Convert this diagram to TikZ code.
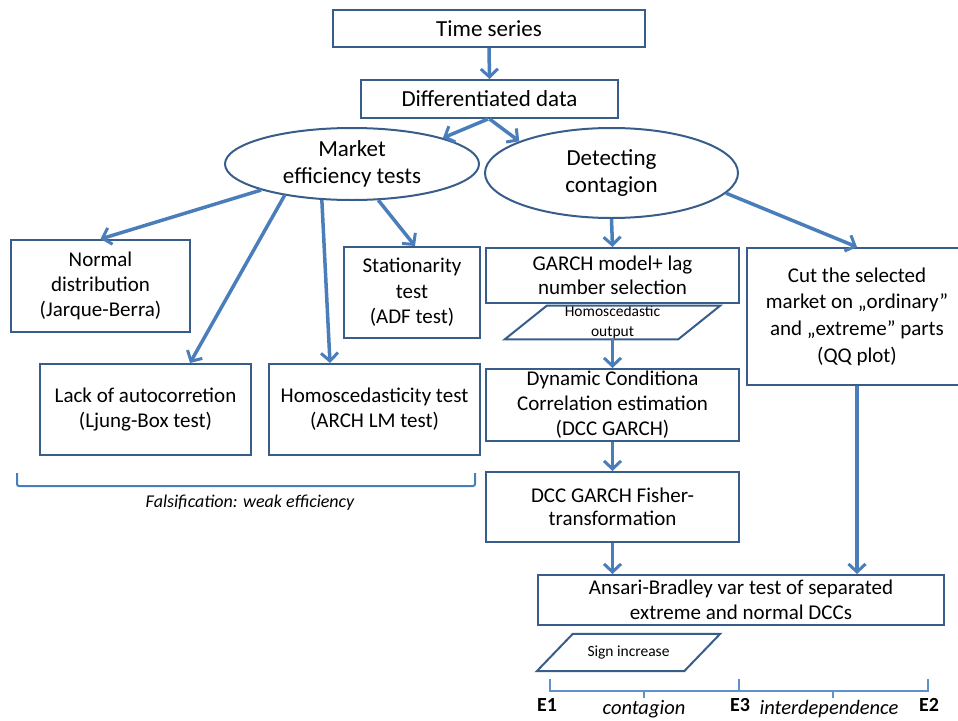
\documentclass[tikz,border=0pt]{standalone}
\usepackage{fontspec}
\setmainfont{Carlito}
\usepackage{xcolor}
\usepackage{tikz}
\usetikzlibrary{arrows.meta}
\usetikzlibrary{shapes.geometric}
\definecolor{boxline}{RGB}{56,93,138}
\definecolor{flowblue}{RGB}{74,126,187}
\definecolor{tickblue}{RGB}{95,145,205}

\begin{document}
\begin{tikzpicture}[x=1pt,y=-1pt,
    box/.style={draw=boxline,line width=2pt,align=center,inner sep=0pt,
      font=\fontsize{21}{25}\selectfont},
    oval/.style={draw=boxline,line width=2pt,ellipse,align=center,inner sep=0pt,
      font=\fontsize{23}{27}\selectfont},
    slantline/.style={draw=boxline,line width=2pt,line join=miter},
    flow/.style={draw=flowblue,line width=3.5pt,
      -{Straight Barb[length=8pt,width=17pt,line width=3pt]}}]
    \clip (0,0) rectangle (958,720);
    \useasboundingbox (0,0) rectangle (958,720);

    % top of the chart
    \node[box,minimum width=312,minimum height=37,font=\fontsize{23}{27}\selectfont] (ts) at (489,28.5) {Time series};
    \node[box,minimum width=257,minimum height=38,font=\fontsize{23}{27}\selectfont] (dd) at (489.5,99) {Differentiated data};
    \node[oval,minimum width=254,minimum height=72] (me) at (352,164) {Market\\efficiency tests};
    \node[oval,minimum width=253,minimum height=90] (dc) at (611.5,173) {Detecting\\contagion};

    % efficiency branch
    \node[box,minimum width=179,minimum height=92] (nd) at (100.5,286) {Normal\\distribution\\(Jarque-Berra)};
    \node[box,minimum width=136,minimum height=91,font=\fontsize{21}{25.5}\selectfont] (st) at (412,292.5) {Stationarity\\test\\(ADF test)};
    \node[box,minimum width=211,minimum height=91] (la) at (145.5,409.5) {Lack of autocorretion\\(Ljung-Box test)};
    \node[box,minimum width=211,minimum height=91] (hs) at (374.5,409.5) {Homoscedasticity test\\(ARCH LM test)};

    \draw[flowblue,line width=2pt,rounded corners=2] (17,473) -- (17,486) -- (475,486) -- (475,473);
    \node[font=\itshape\fontsize{18}{20}\selectfont] (fw) at (250,503) {Falsification: weak efficiency};

    % contagion branch
    \node[box,minimum width=253,minimum height=55,font=\fontsize{21}{23.5}\selectfont] (gm) at (612.5,275.5) {GARCH model+ lag\\number selection};
    \node[align=center,inner sep=0pt,minimum width=215,minimum height=33,font=\fontsize{15.5}{20}\selectfont] (ho) at (612.5,322.5) {Homoscedastic\\output};
    \draw[slantline] (ho.south west) -- ([xshift=42pt]ho.north west) -- (ho.north east)
      -- ([xshift=-42pt]ho.south east) -- cycle;
    \node[box,minimum width=253,minimum height=72] (dy) at (612.5,405) {Dynamic Conditiona\\Correlation estimation\\(DCC GARCH)};
    \node[box,minimum width=253,minimum height=70,font=\fontsize{21}{23}\selectfont] (fi) at (612.5,507) {DCC GARCH Fisher-\\transformation};
    \node[box,minimum width=220,minimum height=137,font=\fontsize{21}{26.7}\selectfont] (ct) at (857,316.5) {Cut the selected\\market on „ordinary”\\and „extreme” parts\\(QQ plot)};
    \node[box,minimum width=406,minimum height=50] (ab) at (741,600) {Ansari-Bradley var test of separated\\extreme and normal DCCs};
    \node[inner sep=0pt,minimum width=183,minimum height=37,font=\fontsize{15.5}{18}\selectfont] (si) at (628.5,652.5) {Sign increase};
    \draw[slantline] (si.south west) -- ([xshift=36pt]si.north west) -- (si.north east)
      -- ([xshift=-36pt]si.south east) -- cycle;

    % arrows
    \draw[flow] (ts.south) -- (dd.north);
    \draw[flow] ([xshift=-1.5pt]dd.south) -- (me.16);
    \draw[flow] (dd.south) -- (dc.161);
    \draw[flow] (me.196) -- (nd.north);
    \draw[flow] (me.205) -- ([xshift=44.5pt]la.north);
    \draw[flow] (me.230) -- ([xshift=-44.5pt]hs.north);
    \draw[flow] (me.306) -- ([xshift=3pt]st.north);
    \draw[flow] (dc.south) -- (gm.north);
    \draw[flow] (dc.350) -- (ct.north);
    \draw[flow] (ho.south) -- (dy.north);
    \draw[flow] (dy.south) -- (fi.north);
    \draw[flow] (fi.south) -- (fi.south |- ab.north);
    \draw[flow] (ct.south) -- (ct.south |- ab.north);

    % scale at the bottom
    \draw[tickblue,line width=1.2pt] (550,679) -- (550,691) -- (739,691) -- (739,679);
    \draw[tickblue,line width=1.2pt] (739,691) -- (928,691) -- (928,679);
    \draw[tickblue,line width=1.2pt] (644,691) -- (644,698);
    \draw[tickblue,line width=1.2pt] (833,691) -- (833,698);
    \node[anchor=base,font=\bfseries\fontsize{20}{22}\selectfont] (e1) at (547,711) {E1};
    \node[anchor=base,font=\bfseries\fontsize{20}{22}\selectfont] (e3) at (740,711) {E3};
    \node[anchor=base,font=\bfseries\fontsize{20}{22}\selectfont] (e2) at (929,711) {E2};
    \node[anchor=base,font=\itshape\fontsize{20.5}{22}\selectfont] (cg) at (644,714) {contagion};
    \node[anchor=base,font=\itshape\fontsize{20.5}{22}\selectfont] (ip) at (829,714) {interdependence};
\end{tikzpicture}
\end{document}
